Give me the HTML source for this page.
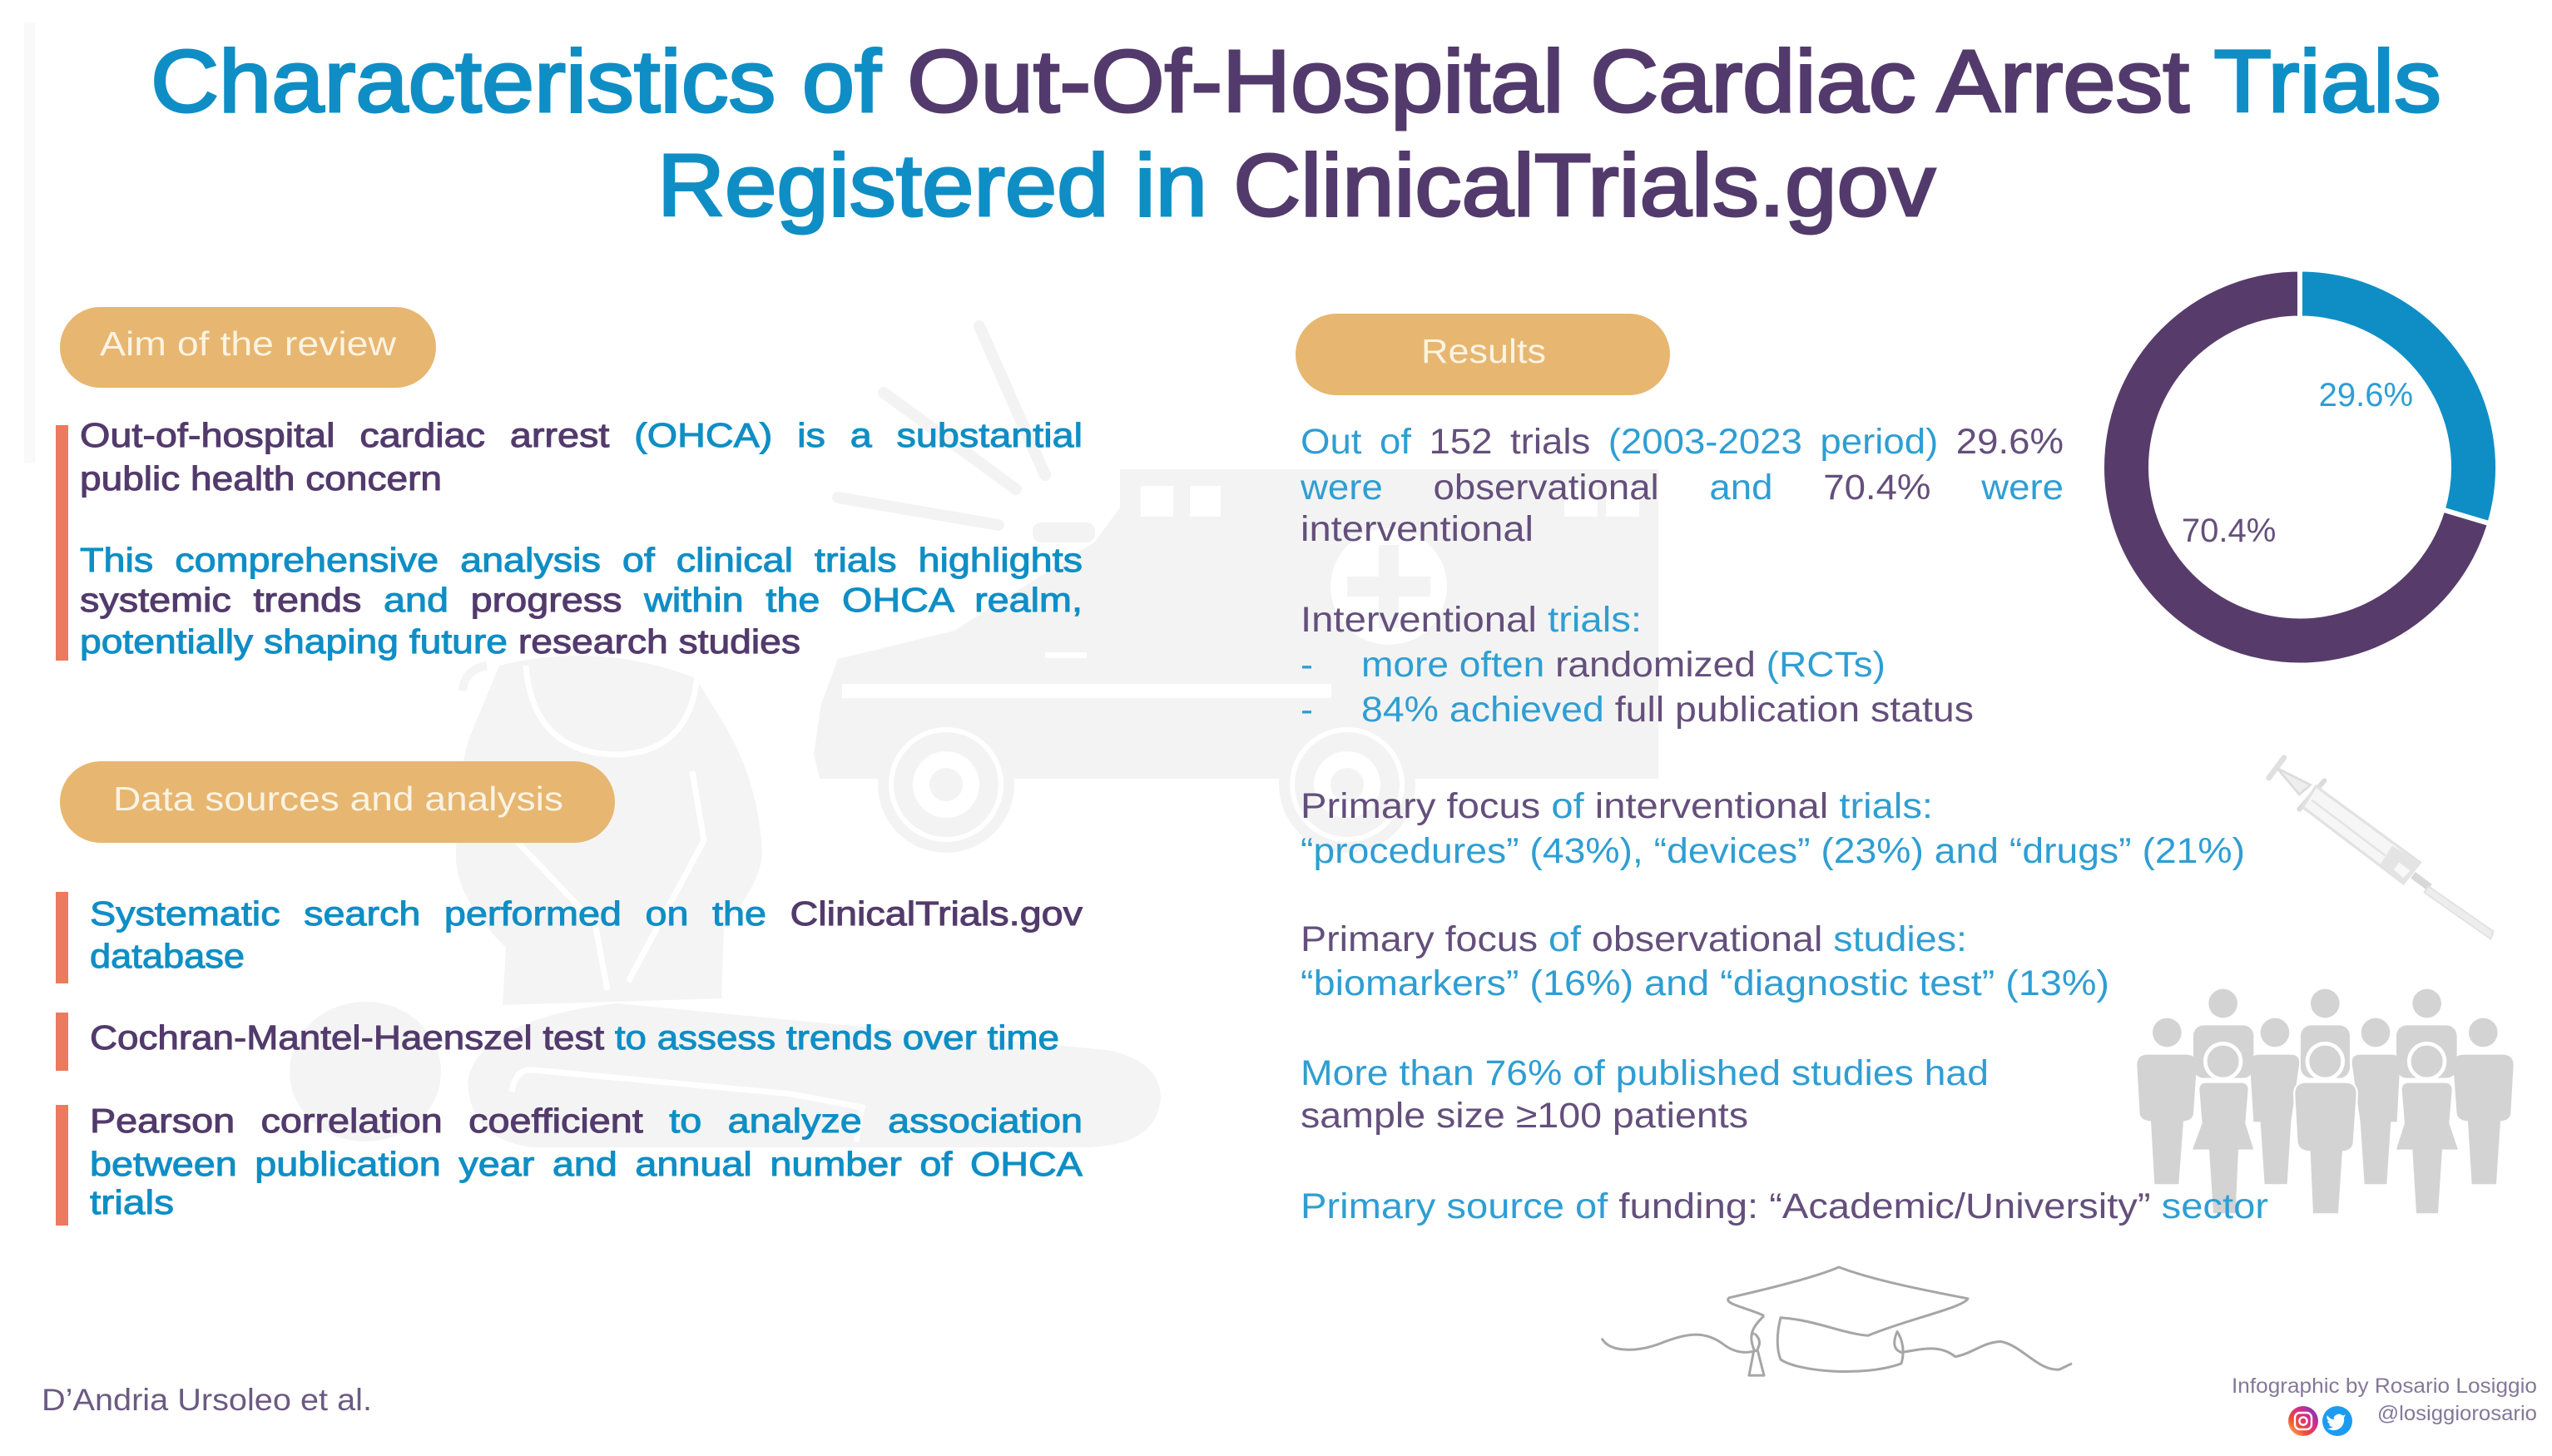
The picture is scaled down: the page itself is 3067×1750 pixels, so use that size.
<!DOCTYPE html>
<html lang="en">
<head>
<meta charset="utf-8">
<title>Characteristics of Out-Of-Hospital Cardiac Arrest Trials Registered in ClinicalTrials.gov</title>
<style>
html,body{margin:0;padding:0;background:#fff;}
#page{position:relative;width:3067px;height:1750px;overflow:hidden;background:#fff;font-family:"Liberation Sans",sans-serif;}
#art{position:absolute;left:0;top:0;}
.l{position:absolute;white-space:nowrap;left:calc(var(--x)*1px);top:calc(var(--b)*1px - var(--f)*.8465px);font-size:calc(var(--f)*1px);line-height:1;transform-origin:0 0;}
.j{white-space:normal;width:calc(var(--w)*1px/var(--s));transform:scaleX(var(--s));text-align:justify;text-align-last:justify;}
.t{--f:106;-webkit-text-stroke:3px currentColor;}
.m{--f:41;-webkit-text-stroke:1px currentColor;--s:1.14;}
.r{--f:43;--s:1.06;}
.pl{--f:41;color:#fbf3e3;}
.m,.t{color:#0f8ec5;}
.r{color:#2f9ed3;}
.m .p,.t .p{color:#533a6c;}
.r .p{color:#644f7c;}
.pill{position:absolute;background:#e7b670;border-radius:50px;}
.bar{position:absolute;background:#ec7a5e;}
</style>
</head>
<body>
<div id="page">
<svg id="art" width="3067" height="1750" viewBox="0 0 3067 1750">
  <defs>
    <linearGradient id="ig" x1="0" y1="1" x2="1" y2="0">
      <stop offset="0" stop-color="#fdc24c"/><stop offset=".35" stop-color="#f0483c"/><stop offset=".65" stop-color="#cf2c8e"/><stop offset="1" stop-color="#5a43c4"/>
    </linearGradient>
  </defs>
  <rect x="29" y="27" width="13" height="530" fill="#f9f9f9"/>

  <g fill="#f3f3f3">
    <path d="M1346,564 H1993 V936 H985 L978,906 L987,846 L1007,792 L1147,758 L1316,651 L1346,610 Z"/>
    <rect x="1241" y="628" width="75" height="24" rx="10"/>
    <g stroke="#f3f3f3" stroke-width="14" stroke-linecap="round">
      <line x1="1177" y1="392" x2="1256" y2="571"/>
      <line x1="1062" y1="472" x2="1221" y2="588"/>
      <line x1="1007" y1="598" x2="1200" y2="631"/>
    </g>
    <g fill="#fff">
      <rect x="1371" y="584" width="39" height="37"/><rect x="1430" y="584" width="37" height="37"/>
      <rect x="1880" y="584" width="40" height="37"/><rect x="1930" y="584" width="40" height="37"/>
      <rect x="1012" y="822" width="588" height="17"/><rect x="1256" y="784" width="50" height="7"/>
      <ellipse cx="1669" cy="705" rx="70" ry="70"/>
    </g>
    <rect x="1657" y="655" width="24" height="100"/><rect x="1619" y="693" width="100" height="24"/>
    <g>
      <circle cx="1137" cy="943" r="82"/><circle cx="1137" cy="943" r="66" fill="none" stroke="#fff" stroke-width="6"/><circle cx="1137" cy="943" r="30" fill="none" stroke="#fff" stroke-width="20"/>
      <circle cx="1619" cy="943" r="82"/><circle cx="1619" cy="943" r="66" fill="none" stroke="#fff" stroke-width="6"/><circle cx="1619" cy="943" r="30" fill="none" stroke="#fff" stroke-width="20"/>
    </g>
  </g>

  <g fill="#f4f4f4">
    <path d="M600,800 Q720,770 836,815 L870,870 Q912,940 916,1025 Q915,1060 870,1115 L867,1200 L604,1208 L608,1139 Q548,1080 548,1030 Q550,920 566,882 Z"/>
    <path d="M556,830 Q558,805 585,800" fill="none" stroke="#f4f4f4" stroke-width="10"/>
    <ellipse cx="439" cy="1288" rx="91" ry="84"/>
    <path d="M562,1300 Q575,1225 741,1206 L1330,1262 Q1395,1275 1395,1320 Q1390,1379 1300,1379 L640,1379 Q565,1370 562,1300 Z"/>
    <g fill="none" stroke="#fff" stroke-width="7">
      <path d="M632,800 Q640,905 741,907 Q830,905 838,810"/>
      <path d="M832,927 L846,1010 L755,1180"/>
      <path d="M622,1012 L715,1110 L730,1190"/>
      <path d="M615,1312 Q620,1284 640,1286 L952,1315 L1036,1331 L1029,1372"/>
    </g>
  </g>

  <g id="donut"></g>

  <g transform="translate(2680,880) scale(.3333)">
    <line x1="140" y1="165" x2="195" y2="92" stroke="#e0e0e0" stroke-width="20" stroke-linecap="round"/>
    <path d="M170,130 L290,190 L250,225 Z" fill="#eee" stroke="#dcdcdc" stroke-width="8"/>
    <line x1="250" y1="278" x2="340" y2="175" stroke="#dcdcdc" stroke-width="18" stroke-linecap="round"/>
    <path d="M310,195 L685,470 L625,545 L262,270 Z" fill="#f6f6f6" stroke="#e2e2e2" stroke-width="10"/>
    <line x1="295" y1="245" x2="560" y2="445" stroke="#e4e4e4" stroke-width="8"/>
    <path d="M585,410 L685,470 L625,545 L540,480 Z" fill="#e4e4e4"/>
    <path d="M610,470 L650,500 L625,525 L590,495 Z" fill="#f8f8f8"/>
    <line x1="660" y1="515" x2="720" y2="560" stroke="#d8d8d8" stroke-width="28"/>
    <path d="M715,555 L950,718 L940,746 L700,578 Z" fill="#ededed" stroke="#e0e0e0" stroke-width="5"/>
  </g>

  <g transform="translate(2550,1170) scale(.3333)" fill="#d3d3d3">
    <g>
      <circle cx="365" cy="108" r="52"/><circle cx="733" cy="108" r="52"/><circle cx="1100" cy="108" r="52"/>
      <rect x="258" y="187" width="217" height="190" rx="38"/><rect x="645" y="187" width="177" height="190" rx="38"/><rect x="990" y="187" width="218" height="190" rx="38"/>
    </g>
    <g>
      <circle cx="163" cy="213" r="52"/><circle cx="552" cy="213" r="52"/><circle cx="915" cy="213" r="52"/><circle cx="1303" cy="213" r="52"/>
      <path d="M93,293 H232 Q270,293 270,331 L258,505 Q255,530 222,532 L205,760 H118 L105,532 Q68,530 65,505 L55,331 Q55,293 93,293 Z"/>
      <path d="M495,293 H610 Q640,293 640,325 L610,535 L596,760 H515 L500,535 L475,535 L462,325 Q462,293 495,293 Z"/>
      <path d="M858,293 H973 Q1003,293 1003,325 L992,535 H970 L955,760 H875 L860,535 L830,325 Q828,293 858,293 Z"/>
      <path d="M1233,293 H1372 Q1412,293 1412,331 L1402,505 Q1398,530 1365,532 L1350,760 H1262 L1248,532 Q1212,530 1208,505 L1195,331 Q1195,293 1233,293 Z"/>
    </g>
    <g fill="none" stroke="#fff" stroke-width="14">
      <circle cx="365" cy="317" r="64"/><circle cx="733" cy="317" r="64"/><circle cx="1100" cy="317" r="64"/>
      <path d="M305,395 H430 Q455,395 455,420 L445,540 L475,635 H420 L410,865 H330 L315,635 H255 L290,540 L280,420 Q280,395 305,395 Z"/>
      <path d="M665,395 H805 Q845,395 845,435 L833,610 Q830,638 795,640 L780,865 H690 L680,640 Q640,638 635,610 L625,435 Q625,395 665,395 Z"/>
      <path d="M1035,395 H1165 Q1190,395 1190,420 L1180,540 L1212,635 H1155 L1140,865 H1062 L1048,635 H990 L1020,540 L1010,420 Q1010,395 1035,395 Z"/>
    </g>
    <g>
      <circle cx="365" cy="317" r="50"/><circle cx="733" cy="317" r="50"/><circle cx="1100" cy="317" r="50"/>
      <path d="M305,395 H430 Q455,395 455,420 L445,540 L475,635 H420 L410,865 H330 L315,635 H255 L290,540 L280,420 Q280,395 305,395 Z"/>
      <path d="M665,395 H805 Q845,395 845,435 L833,610 Q830,638 795,640 L780,865 H690 L680,640 Q640,638 635,610 L625,435 Q625,395 665,395 Z"/>
      <path d="M1035,395 H1165 Q1190,395 1190,420 L1180,540 L1212,635 H1155 L1140,865 H1062 L1048,635 H990 L1020,540 L1010,420 Q1010,395 1035,395 Z"/>
    </g>
  </g>

  <g transform="translate(1500,1000) scale(1,.4785)" fill="none" stroke="#a6a6a6" stroke-width="3" stroke-linejoin="round">
    <path vector-effect="non-scaling-stroke" d="M425,1272 C435,1310 470,1305 495,1285 C530,1255 550,1255 570,1285 C585,1310 600,1310 612,1302"/>
    <path vector-effect="non-scaling-stroke" d="M620,1215 C600,1195 570,1185 578,1170 C620,1150 680,1120 710,1093 C750,1125 810,1150 865,1172 C860,1195 790,1225 745,1265 C715,1260 680,1225 640,1220 C635,1260 635,1300 640,1325 C660,1355 740,1370 785,1335 C790,1300 785,1270 780,1255 C775,1280 775,1300 785,1307 C810,1300 830,1285 850,1318 C870,1310 885,1280 905,1280 C930,1290 950,1355 975,1350 L990,1335"/>
    <path vector-effect="non-scaling-stroke" d="M620,1215 C608,1240 600,1260 608,1300 L602,1365 L620,1365 L612,1300 C620,1270 605,1255 608,1262"/>
  </g>

  <g>
    <circle cx="2768" cy="1708" r="18" fill="url(#ig)"/>
    <rect x="2758" y="1698" width="20" height="20" rx="6" fill="none" stroke="#fff" stroke-width="2.4"/>
    <circle cx="2768" cy="1708" r="4.6" fill="none" stroke="#fff" stroke-width="2.4"/>
  </g>
  <g>
    <circle cx="2809" cy="1708" r="18" fill="#1d9bf0"/>
    <path d="M2819,1700 Q2816,1702 2815,1701 Q2811,1698 2807,1701 Q2804,1703 2805,1706 Q2800,1706 2797,1701 Q2795,1705 2799,1708 L2797,1708 Q2798,1711 2801,1712 L2799,1712 Q2800,1715 2804,1715 Q2801,1717 2797,1717 Q2807,1722 2814,1715 Q2818,1710 2817,1704 Z" fill="#fff"/>
  </g>
</svg>

<h1 style="margin:0;font:inherit">
<div class="l t" style="--x:181;--b:135;--w:2753">Characteristics of <span class="p">Out-Of-Hospital Cardiac Arrest</span> Trials</div>
<div class="l t" style="--x:790;--b:260;--w:1536">Registered in <span class="p">ClinicalTrials.gov</span></div>
</h1>

<div class="pill" style="left:72px;top:369px;width:452px;height:97px"></div>
<div class="l pl" style="--x:120;--b:428;--w:356">Aim of the review</div>
<div class="bar" style="left:67px;top:511px;width:15px;height:283px"></div>
<div class="l m j" style="--x:96;--b:538;--w:1205"><span class="p">Out-of-hospital cardiac arrest</span> (OHCA) is a substantial</div>
<div class="l m" style="--x:96;--b:590;--w:435"><span class="p">public health concern</span></div>
<div class="l m j" style="--x:96;--b:688;--w:1205">This comprehensive analysis of clinical trials highlights</div>
<div class="l m j" style="--x:96;--b:736;--w:1205"><span class="p">systemic trends</span> and <span class="p">progress</span> within the OHCA realm,</div>
<div class="l m" style="--x:96;--b:786;--w:866">potentially shaping future <span class="p">research studies</span></div>

<div class="pill" style="left:72px;top:915px;width:667px;height:98px"></div>
<div class="l pl" style="--x:136;--b:975;--w:541">Data sources and analysis</div>
<div class="bar" style="left:67px;top:1072px;width:15px;height:110px"></div>
<div class="bar" style="left:67px;top:1217px;width:15px;height:70px"></div>
<div class="bar" style="left:67px;top:1328px;width:15px;height:145px"></div>
<div class="l m j" style="--x:108;--b:1113;--w:1193">Systematic search performed on the <span class="p">ClinicalTrials.gov</span></div>
<div class="l m" style="--x:108;--b:1164;--w:186">database</div>
<div class="l m" style="--x:108;--b:1262;--w:1165"><span class="p">Cochran-Mantel-Haenszel test</span> to assess trends over time</div>
<div class="l m j" style="--x:108;--b:1362;--w:1193"><span class="p">Pearson correlation coefficient</span> to analyze association</div>
<div class="l m j" style="--x:108;--b:1414;--w:1193">between publication year and annual number of OHCA</div>
<div class="l m" style="--x:108;--b:1460;--w:101">trials</div>

<div class="l" style="--x:50;--b:1695;--f:37;--w:397;color:#6b5a82">D’Andria Ursoleo et al.</div>

<div class="pill" style="left:1557px;top:377px;width:450px;height:98px"></div>
<div class="l pl" style="--x:1708;--b:437;--w:150">Results</div>

<div class="l r j" style="--x:1563;--b:546;--w:917">Out of <span class="p">152 trials</span> (2003-2023 period) <span class="p">29.6%</span></div>
<div class="l r j" style="--x:1563;--b:601;--w:917">were <span class="p">observational</span> and <span class="p">70.4%</span> were</div>
<div class="l r" style="--x:1563;--b:651;--w:280"><span class="p">interventional</span></div>
<div class="l r" style="--x:1563;--b:760;--w:410"><span class="p">Interventional</span> trials:</div>
<div class="l r" style="--x:1563;--b:814;--w:15">-</div>
<div class="l r" style="--x:1636;--b:814;--w:630">more often <span class="p">randomized</span> (RCTs)</div>
<div class="l r" style="--x:1563;--b:868;--w:15">-</div>
<div class="l r" style="--x:1636;--b:868;--w:736">84% achieved <span class="p">full publication status</span></div>
<div class="l r" style="--x:1563;--b:984;--w:760"><span class="p">Primary focus</span> of <span class="p">interventional</span> trials:</div>
<div class="l r" style="--x:1563;--b:1038;--w:1135">“procedures” (43%), “devices” (23%) and “drugs” (21%)</div>
<div class="l r" style="--x:1563;--b:1144;--w:801"><span class="p">Primary focus</span> of <span class="p">observational</span> studies:</div>
<div class="l r" style="--x:1563;--b:1197;--w:972">“biomarkers” (16%) and “diagnostic test” (13%)</div>
<div class="l r" style="--x:1563;--b:1305;--w:827">More than 76% of published studies had</div>
<div class="l r" style="--x:1563;--b:1356;--w:538"><span class="p">sample size ≥100 patients</span></div>
<div class="l r" style="--x:1563;--b:1465;--w:1163">Primary source of <span class="p">funding: “Academic/University”</span> sector</div>

<div class="l" style="--x:2682;--b:1675;--f:25;--w:367;color:#84789a">Infographic by Rosario Losiggio</div>
<div class="l" style="--x:2857;--b:1708;--f:25;--w:192;color:#84789a">@losiggiorosario</div>
</div>

<script>
const categories = ['Observational', 'Interventional'];
const sharePercent = [29.6, 70.4];
const sliceLabels = ['29.6%', '70.4%'];

const svgNS = 'http://www.w3.org/2000/svg';
const donutCenterX = 2764, donutCenterY = 561.5, outerRadius = 238, innerRadius = 179;
const sliceFills = ['#0f8ec5', '#573c6b'];
const labelFills = ['#2f9ed3', '#644f7c'];

function angleFor(value, total) { return value / total * Math.PI * 2; }
function pointAt(radius, angle) {
  return [donutCenterX + radius * Math.sin(angle), donutCenterY - radius * Math.cos(angle)];
}
function drawDonut() {
  const group = document.getElementById('donut');
  const total = sharePercent.reduce(function (a, b) { return a + b; }, 0);
  let start = 0;
  sharePercent.forEach(function (value, i) {
    const end = start + angleFor(value, total);
    const large = end - start > Math.PI ? 1 : 0;
    const a = pointAt(outerRadius, start), b = pointAt(outerRadius, end);
    const c = pointAt(innerRadius, end), d = pointAt(innerRadius, start);
    const path = document.createElementNS(svgNS, 'path');
    path.setAttribute('d', 'M' + a + ' A' + outerRadius + ',' + outerRadius + ' 0 ' + large + ' 1 ' + b +
      ' L' + c + ' A' + innerRadius + ',' + innerRadius + ' 0 ' + large + ' 0 ' + d + ' Z');
    path.setAttribute('fill', sliceFills[i]);
    path.setAttribute('stroke', '#fff');
    path.setAttribute('stroke-width', '6');
    
    
    group.appendChild(path);

    const mid = (start + end) / 2 - 0.14;
    const pos = pointAt(116, mid);
    const label = document.createElementNS(svgNS, 'text');
    label.setAttribute('x', pos[0] - 3);
    label.setAttribute('y', pos[1] + 8);
    label.setAttribute('text-anchor', 'middle');
    label.setAttribute('font-family', '"Liberation Sans", sans-serif');
    label.setAttribute('font-size', '40');
    label.setAttribute('fill', labelFills[i]);
    label.textContent = sliceLabels[i];
    
    
    group.appendChild(label);
    start = end;
  });
}
drawDonut();

function fitLines() {
  document.querySelectorAll('.l:not(.j)').forEach(function (el) {
    const target = parseFloat(getComputedStyle(el).getPropertyValue('--w'));
    const natural = el.getBoundingClientRect().width;
    if (natural > 0) el.style.transform = 'scaleX(' + (target / natural) + ')';
  });
}
fitLines();
</script>
</body>
</html>
